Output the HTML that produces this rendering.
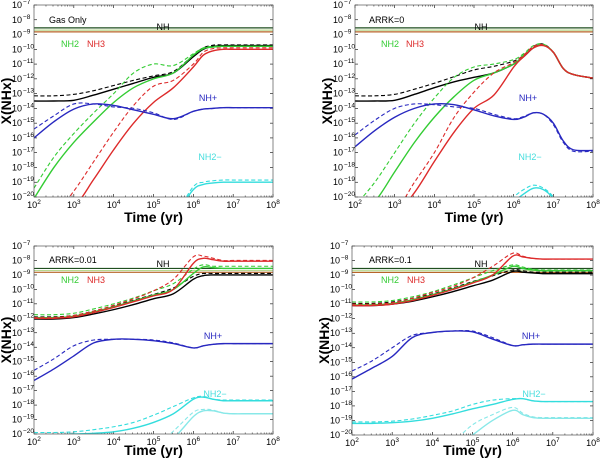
<!DOCTYPE html>
<html><head><meta charset="utf-8"><style>
html,body{margin:0;padding:0;background:#fff;overflow:hidden;width:600px;height:463px;}
svg{display:block;font-family:"Liberation Sans",sans-serif;}
</style></head><body>
<svg id="fig" width="600" height="463" viewBox="0 0 600 463"></svg>
<script>
// shared log10(time) grid
const logTime = [2,2.5,3,3.5,4,4.5,5,5.5,6,6.25,6.5,6.75,7,7.25,7.5,8];
const xTickExps = [2,3,4,5,6,7,8];
const yTickExps = [-7,-8,-9,-10,-11,-12,-13,-14,-15,-16,-17,-18,-19,-20];
const refLevels = [-8.55,-8.7,-8.82];

// Panel A: Gas Only
const gasNHs  = [-13.5,-13.5,-13.45,-13.1,-12.7,-12.3,-11.9,-11.6,-10.5,-10.0,-9.8,-9.75,-9.75,-9.75,-9.75,-9.75];
const gasNHd  = [-13.15,-13.15,-13.05,-12.8,-12.45,-12.1,-11.8,-11.5,-10.4,-9.9,-9.72,-9.7,-9.7,-9.7,-9.7,-9.7];
const gasNH2s = [-20.1,-18.0,-16.3,-14.9,-13.6,-12.6,-12.0,-11.6,-10.4,-9.95,-9.85,-9.8,-9.8,-9.8,-9.8,-9.8];
const gasNH2d = [-19.4,-17.3,-15.7,-14.3,-13.0,-11.6,-11.0,-11.1,-10.3,-9.9,-9.8,-9.78,-9.78,-9.78,-9.78,-9.78];
const gasNH3s = [-24,-22.5,-20.7,-18.8,-16.8,-15.0,-13.6,-12.6,-11.2,-10.4,-10.1,-10.0,-10.0,-10.0,-10.0,-10.0];
const gasNH3d = [-23,-21.5,-19.6,-17.6,-15.6,-13.8,-12.5,-12.1,-11.0,-10.2,-9.95,-9.9,-9.9,-9.9,-9.9,-9.9];
const gasNHps = [-16.0,-14.9,-14.05,-13.7,-13.8,-14.1,-14.4,-14.7,-14.2,-14.05,-14.0,-13.95,-13.95,-13.95,-13.95,-13.95];
const gasNHpd = [-15.4,-14.5,-13.7,-13.7,-13.9,-14.0,-14.3,-14.75,-14.2,-14.05,-14.0,-13.95,-13.95,-13.95,-13.95,-13.95];
const gasNH2ms = [-30,-30,-30,-30,-30,-28,-26,-23,-19.5,-19.15,-19.05,-19.0,-19.0,-19.0,-19.0,-19.0];
const gasNH2md = [-30,-30,-30,-30,-30,-28,-25.5,-22.5,-19.3,-19.0,-18.9,-18.85,-18.85,-18.85,-18.85,-18.85];

// Panel B: ARRK=0
const a0NHs  = [-13.5,-13.5,-13.45,-13.05,-12.6,-12.2,-11.9,-11.6,-11.0,-10.5,-9.9,-9.7,-10.2,-11.3,-11.7,-11.95];
const a0NHd  = [-13.15,-13.15,-13.05,-12.7,-12.3,-11.85,-11.4,-11.15,-10.8,-10.4,-9.8,-9.65,-10.2,-11.3,-11.7,-11.95];
const a0NH2s = [-21.5,-20.3,-18.3,-16.3,-14.6,-13.2,-12.1,-11.6,-11.0,-10.4,-9.9,-9.7,-10.2,-11.3,-11.7,-11.95];
const a0NH2d = [-20.6,-19.0,-17.0,-15.0,-13.3,-11.9,-11.2,-11.0,-10.7,-10.3,-9.75,-9.65,-10.2,-11.3,-11.7,-11.95];
const a0NH3s = [-25,-23,-21.5,-19.7,-17.6,-15.6,-14.0,-13.1,-11.2,-10.5,-9.9,-9.75,-10.2,-11.3,-11.7,-11.95];
const a0NH3d = [-25,-23,-21.0,-19.0,-17.0,-14.6,-12.9,-11.6,-10.9,-10.4,-9.8,-9.7,-10.2,-11.3,-11.7,-11.95];
const a0NHps = [-16.6,-15.5,-14.6,-14.0,-13.7,-13.75,-14.1,-14.5,-14.75,-14.6,-14.3,-14.4,-15.0,-16.2,-16.8,-16.85];
const a0NHpd = [-15.8,-14.8,-14.0,-13.7,-13.75,-13.9,-14.0,-14.4,-14.7,-14.55,-14.3,-14.4,-15.1,-16.3,-16.9,-16.9];
const a0NH2ms = [-30,-30,-30,-30,-30,-28,-26,-23,-20.3,-19.8,-19.4,-19.5,-20.1,-22,-26,-30];
const a0NH2md = [-30,-30,-30,-30,-30,-28,-25.5,-22.5,-20.0,-19.5,-19.2,-19.4,-20.0,-22,-26,-30];

// Panel C: ARRK=0.01
const a1NHs  = [-12.05,-12.05,-11.95,-11.7,-11.4,-11.05,-10.65,-10.3,-9.3,-9.05,-9.0,-9.0,-9.0,-9.0,-9.0,-9.0];
const a1NHd  = [-11.9,-11.9,-11.8,-11.5,-11.15,-10.75,-10.35,-9.9,-9.1,-8.9,-8.9,-8.9,-8.9,-8.9,-8.9,-8.9];
const a1NH2s = [-11.95,-11.95,-11.85,-11.55,-11.2,-10.8,-10.4,-10.0,-8.9,-8.45,-8.5,-8.55,-8.55,-8.55,-8.55,-8.55];
const a1NH2d = [-11.75,-11.75,-11.65,-11.35,-11.0,-10.6,-10.1,-9.6,-8.6,-8.3,-8.4,-8.4,-8.4,-8.4,-8.4,-8.4];
const a1NH3s = [-12.0,-12.0,-11.9,-11.6,-11.25,-10.85,-10.45,-10.0,-8.2,-7.85,-7.95,-8.05,-8.05,-8.05,-8.05,-8.05];
const a1NH3d = [-11.95,-11.95,-11.8,-11.5,-11.1,-10.65,-10.1,-9.3,-7.75,-7.7,-7.85,-8.0,-8.0,-8.0,-8.0,-8.0];
const a1NHps = [-16.3,-15.5,-14.6,-13.7,-13.45,-13.45,-13.55,-13.75,-14.05,-13.9,-13.8,-13.75,-13.75,-13.75,-13.75,-13.75];
const a1NHpd = [-15.6,-14.8,-13.9,-13.5,-13.45,-13.45,-13.5,-13.7,-14.05,-13.9,-13.8,-13.75,-13.75,-13.75,-13.75,-13.75];
const a1NH2ms = [-20.1,-20.05,-20.0,-19.95,-19.85,-19.6,-19.2,-18.6,-17.6,-17.45,-17.6,-17.7,-17.7,-17.7,-17.7,-17.7];
const a1NH2md = [-19.9,-19.9,-19.85,-19.7,-19.5,-19.2,-18.7,-18.1,-17.5,-17.4,-17.6,-17.65,-17.65,-17.65,-17.65,-17.65];
const a1NH2m2s = [-30,-30,-28,-26,-24,-23,-22,-20.3,-18.8,-18.4,-18.4,-18.55,-18.6,-18.6,-18.6,-18.6];
const a1NH2m2d = [-30,-30,-28,-26,-24,-22.5,-21,-19.8,-18.5,-18.3,-18.35,-18.55,-18.6,-18.6,-18.6,-18.6];

// Panel D: ARRK=0.1
const a2NHs  = [-11.1,-11.1,-11.0,-10.8,-10.5,-10.15,-9.75,-9.35,-8.75,-8.8,-8.85,-8.9,-8.9,-8.9,-8.9,-8.9];
const a2NHd  = [-10.95,-10.95,-10.85,-10.6,-10.3,-9.9,-9.45,-9.05,-8.65,-8.7,-8.8,-8.8,-8.8,-8.8,-8.8,-8.8];
const a2NH2s = [-11.05,-11.05,-10.95,-10.7,-10.35,-9.95,-9.5,-9.0,-8.4,-8.55,-8.65,-8.7,-8.7,-8.7,-8.7,-8.7];
const a2NH2d = [-10.85,-10.85,-10.75,-10.5,-10.15,-9.7,-9.2,-8.7,-8.3,-8.45,-8.6,-8.65,-8.65,-8.65,-8.65,-8.65];
const a2NH3s = [-11.1,-11.1,-11.0,-10.75,-10.4,-10.0,-9.55,-9.0,-7.7,-7.75,-7.85,-7.9,-7.9,-7.9,-7.9,-7.9];
const a2NH3d = [-11.0,-11.0,-10.9,-10.6,-10.2,-9.8,-9.2,-8.4,-7.5,-7.7,-7.85,-7.9,-7.9,-7.9,-7.9,-7.9];
const a2NHps = [-16.15,-15.4,-14.6,-13.3,-12.95,-12.85,-12.9,-13.4,-13.85,-13.8,-13.75,-13.75,-13.75,-13.75,-13.75,-13.75];
const a2NHpd = [-15.6,-14.9,-14.0,-13.15,-12.95,-12.85,-12.85,-13.3,-13.85,-13.8,-13.75,-13.75,-13.75,-13.75,-13.75,-13.75];
const a2NH2ms = [-19.2,-19.2,-19.15,-19.05,-18.85,-18.55,-18.2,-17.9,-17.55,-17.5,-17.65,-17.7,-17.7,-17.7,-17.7,-17.7];
const a2NH2md = [-19.1,-19.1,-19.05,-18.9,-18.65,-18.35,-17.9,-17.6,-17.5,-17.5,-17.65,-17.7,-17.7,-17.7,-17.7,-17.7];
const a2NH2m2s = [-30,-28,-26,-24,-22.5,-21,-20.0,-19.0,-18.3,-18.6,-18.8,-18.85,-18.85,-18.85,-18.85,-18.85];
const a2NH2m2d = [-30,-28,-26,-24,-22,-20.5,-19.3,-18.6,-18.1,-18.5,-18.75,-18.8,-18.8,-18.8,-18.8,-18.8];

const C = {nh:'#000000', nh2:'#33cc33', nh3:'#dd2a2a', nhp:'#2828c0', nh2m:'#33dddd', nh2m2:'#88e8e8'};
const refColors = ['#1f4f1f','#b8d890','#b8642a'];

const panels = [
  {name:'gas-only', title:'Gas Only', x0:34,x1:273,y0:5,y1:197, xtY:222,
   titlePos:[49,20], nhPos:[163,27], nh2Pos:[70,44], nh3Pos:[96,44], nhpPos:[208,98], nh2mPos:[210,157],
   series:[['nh',gasNHs,gasNHd],['nh2',gasNH2s,gasNH2d],['nh3',gasNH3s,gasNH3d],['nhp',gasNHps,gasNHpd],['nh2m',gasNH2ms,gasNH2md]]},
  {name:'arrk-0', title:'ARRK=0', x0:355,x1:593,y0:5,y1:197, xtY:222,
   titlePos:[369,20], nhPos:[481,27], nh2Pos:[390,44], nh3Pos:[415,44], nhpPos:[528,98], nh2mPos:[530,157],
   series:[['nh',a0NHs,a0NHd],['nh2',a0NH2s,a0NH2d],['nh3',a0NH3s,a0NH3d],['nhp',a0NHps,a0NHpd],['nh2m',a0NH2ms,a0NH2md]]},
  {name:'arrk-0.01', title:'ARRK=0.01', x0:34,x1:273,y0:246,y1:434, xtY:455,
   titlePos:[49,260], nhPos:[163,264], nh2Pos:[70,280], nh3Pos:[96,280], nhpPos:[213,336], nh2mPos:[215,394],
   series:[['nh',a1NHs,a1NHd],['nh2',a1NH2s,a1NH2d],['nh3',a1NH3s,a1NH3d],['nhp',a1NHps,a1NHpd],['nh2m',a1NH2ms,a1NH2md],['nh2m2',a1NH2m2s,a1NH2m2d]]},
  {name:'arrk-0.1', title:'ARRK=0.1', x0:352,x1:593,y0:246,y1:435, xtY:455,
   titlePos:[369,260], nhPos:[481,264], nh2Pos:[390,280], nh3Pos:[416,280], nhpPos:[531,336], nh2mPos:[534,394],
   series:[['nh',a2NHs,a2NHd],['nh2',a2NH2s,a2NH2d],['nh3',a2NH3s,a2NH3d],['nhp',a2NHps,a2NHpd],['nh2m',a2NH2ms,a2NH2md],['nh2m2',a2NH2m2s,a2NH2m2d]]}
];

const NS='http://www.w3.org/2000/svg';
const svg=document.getElementById('fig');
function mk(tag,attrs,parent){const e=document.createElementNS(NS,tag);for(const k in attrs)e.setAttribute(k,attrs[k]);(parent||svg).appendChild(e);return e;}

function smoothPath(pts){
  let d='M'+pts[0][0].toFixed(2)+','+pts[0][1].toFixed(2);
  for(let i=0;i<pts.length-1;i++){
    const p0=pts[i-1]||pts[i],p1=pts[i],p2=pts[i+1],p3=pts[i+2]||p2;
    const c1=[p1[0]+(p2[0]-p0[0])/6,p1[1]+(p2[1]-p0[1])/6];
    const c2=[p2[0]-(p3[0]-p1[0])/6,p2[1]-(p3[1]-p1[1])/6];
    d+='C'+c1[0].toFixed(2)+','+c1[1].toFixed(2)+' '+c2[0].toFixed(2)+','+c2[1].toFixed(2)+' '+p2[0].toFixed(2)+','+p2[1].toFixed(2);
  }
  return d;
}

panels.forEach((p,pi)=>{
  const g=mk('g',{});
  
  
  const xs=v=>p.x0+(v-2)/6*(p.x1-p.x0);
  const ys=v=>p.y0+(-7-v)/13*(p.y1-p.y0);
  const ysClamp=v=>ys(Math.max(v,-21.2));
  const cid='clip'+pi;
  const cp=mk('clipPath',{id:cid},g);
  mk('rect',{x:p.x0,y:p.y0,width:p.x1-p.x0,height:p.y1-p.y0},cp);
  xTickExps.forEach(e=>{
    const x=xs(e);
    const t=mk('text',{x:x,y:p.y1+11,'font-size':9,'text-anchor':'middle',fill:'#000'},g);
    
    
    t.innerHTML='10<tspan dy="-4" font-size="6.5">'+e+'</tspan>';
    mk('line',{x1:x,x2:x,y1:p.y1,y2:p.y1-3,stroke:'#000','stroke-width':0.6},g);
    mk('line',{x1:x,x2:x,y1:p.y0,y2:p.y0+3,stroke:'#000','stroke-width':0.6},g);
    if(e<8){for(let m=2;m<10;m++){const xm=xs(e+Math.log10(m));
      mk('line',{x1:xm,x2:xm,y1:p.y1,y2:p.y1-1.5,stroke:'#000','stroke-width':0.5},g);
      mk('line',{x1:xm,x2:xm,y1:p.y0,y2:p.y0+1.5,stroke:'#000','stroke-width':0.5},g);}}
  });
  yTickExps.forEach(e=>{
    const y=ys(e);
    const t=mk('text',{x:p.x0-12,y:y+3,'font-size':9,'text-anchor':'end',fill:'#000'},g);
    
    
    t.textContent='10';
    const s=mk('text',{x:p.x0-11,y:y-1,'font-size':6.5,'text-anchor':'start',fill:'#000'},g);
    
    
    s.textContent=String(e).replace('-','\u2212');
    mk('line',{x1:p.x0,x2:p.x0+3,y1:y,y2:y,stroke:'#000','stroke-width':0.6},g);
    mk('line',{x1:p.x1,x2:p.x1-3,y1:y,y2:y,stroke:'#000','stroke-width':0.6},g);
  });
  const body=mk('g',{'clip-path':'url(#'+cid+')'},g);
  refLevels.forEach((lv,i)=>{
    const l=mk('line',{x1:p.x0,x2:p.x1,y1:ys(lv),y2:ys(lv),stroke:refColors[i],'stroke-width':1.2},body);
    
    
  });
  p.series.forEach(([key,sol,das])=>{
    const ptsS=logTime.map((t,i)=>[xs(t),ysClamp(sol[i])]);
    const ptsD=logTime.map((t,i)=>[xs(t),ysClamp(das[i])]);
    const ps=mk('path',{d:smoothPath(ptsS),fill:'none',stroke:C[key],'stroke-width':1.4},body);
    
    
    const pd=mk('path',{d:smoothPath(ptsD),fill:'none',stroke:C[key],'stroke-width':1.1,'stroke-dasharray':'4,2.5'},body);
    
    
  });
  const fr=mk('rect',{x:p.x0,y:p.y0,width:p.x1-p.x0,height:p.y1-p.y0,fill:'none',stroke:'#555','stroke-width':0.7},g);
  
  
  const lab=(txt,pos,col,name,anchor)=>{const t=mk('text',{x:pos[0],y:pos[1]+3,'font-size':9,fill:col,'text-anchor':anchor||'middle'},g);
    
    
    t.textContent=txt;};
  lab(p.title,p.titlePos,'#000','panel-title','start');
  lab('NH',p.nhPos,'#000','nh-label');
  lab('NH2',p.nh2Pos,'#33cc33','nh2-label');
  lab('NH3',p.nh3Pos,'#dd2a2a','nh3-label');
  lab('NH+',p.nhpPos,'#2828c0','nhplus-label');
  lab('NH2\u2212',p.nh2mPos,'#44dddd','nh2minus-label');
  const xt=mk('text',{x:(p.x0+p.x1)/2,y:p.xtY,'font-size':14,'font-weight':'bold','text-anchor':'middle'},g);
  
  
  xt.textContent='Time (yr)';
  const yc=(p.y0+p.y1)/2, yx=p.x0-23;
  const yt=mk('text',{x:yx,y:yc,'font-size':14,'font-weight':'bold','text-anchor':'middle',transform:'rotate(-90 '+yx+' '+yc+')'},g);
  
  
  yt.textContent='X(NHx)';
});
</script>
</body></html>
